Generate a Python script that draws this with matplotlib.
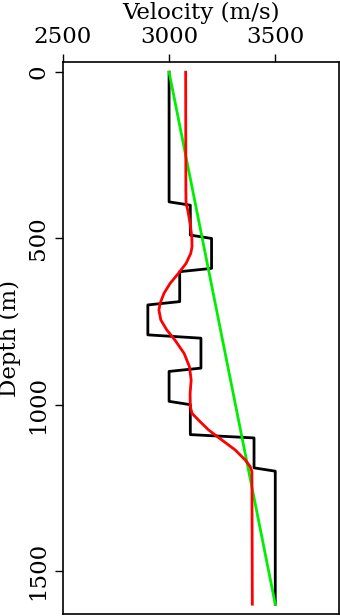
import matplotlib
matplotlib.use("Agg")
import matplotlib.pyplot as plt

# blocky interval velocity (black)
black_depth = [0, 390, 400, 490, 500, 590, 600, 690, 700, 790,
               800, 890, 900, 990, 1000, 1090, 1100, 1190, 1200, 1600]
black_vel = [3000, 3000, 3100, 3100, 3200, 3200, 3050, 3050, 2900, 2900,
             3150, 3150, 3000, 3000, 3100, 3100, 3400, 3400, 3500, 3500]

# linear gradient (green)
green_depth = [0, 1600]
green_vel = [3000, 3500]

# smoothed velocity (red)
red_depth = [0, 355, 395, 415, 455, 495, 525, 545, 575, 605, 635, 665, 695, 715,
             745, 775, 806, 846, 886, 926, 966, 1006, 1026, 1046, 1076, 1106,
             1136, 1166, 1186, 1201, 1600]
red_vel = [3078, 3079, 3080, 3088, 3099, 3107, 3108, 3102, 3080, 3044, 3005, 2976,
           2958, 2952, 2961, 2989, 3028, 3071, 3096, 3104, 3099, 3100, 3108, 3138,
           3186, 3248, 3311, 3358, 3382, 3390, 3392]

x_ticks = [2500, 3000, 3500]
y_ticks = [0, 500, 1000, 1500]

plt.rcParams['font.family'] = 'DejaVu Serif'
plt.rcParams['font.size'] = 16.5

fig = plt.figure(figsize=(3.4, 6.16), dpi=100)
ax = fig.add_axes([0.185, 0.003, 0.812, 0.896])

ax.plot(black_vel, black_depth, color='black', lw=2)
ax.plot(green_vel, green_depth, color='#00ee00', lw=2)
ax.plot(red_vel, red_depth, color='#ff0000', lw=2)

ax.set_xlim(2500, 3800)
ax.set_ylim(1630, -30)
ax.xaxis.tick_top()
ax.xaxis.set_label_position('top')
ax.set_xticks(x_ticks)
ax.set_yticks(y_ticks)
ax.set_yticklabels([str(t) for t in y_ticks], rotation=90, va='center')
ax.tick_params(direction='out', length=6, width=1, pad=4)
ax.set_xlabel('Velocity (m/s)', labelpad=5)
ax.set_ylabel('Depth (m)', labelpad=4)
for s in ax.spines.values():
    s.set_linewidth(1.2)

fig.savefig('out.png', dpi=100)
